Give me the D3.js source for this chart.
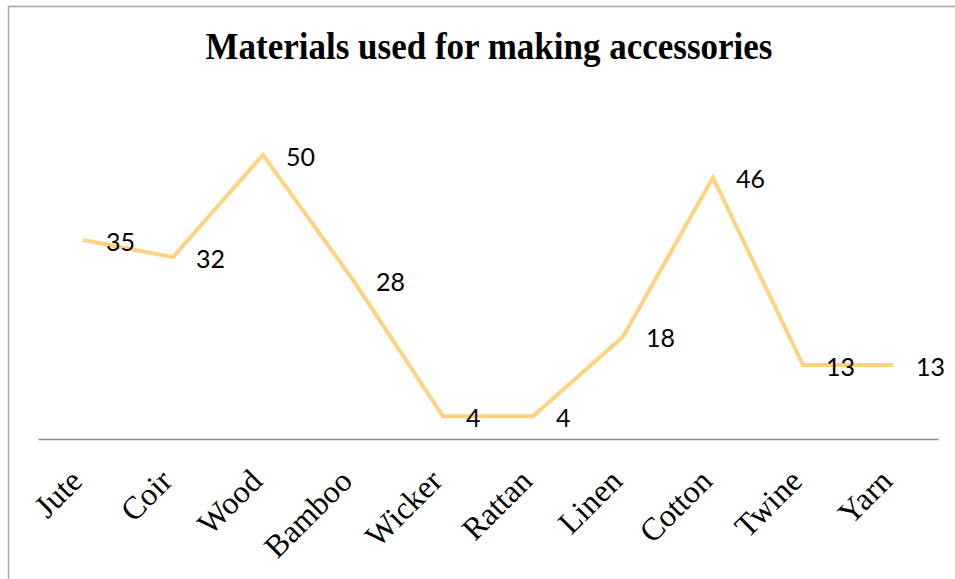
<!DOCTYPE html>
<html>
<head>
<meta charset="utf-8">
<script src="https://cdn.jsdelivr.net/npm/d3@7"></script>
<style>
  html, body { margin: 0; padding: 0; background: #fff; overflow: hidden; }
  svg { display: block; }
</style>
</head>
<body>
<svg id="chart" width="955" height="579"></svg>
<script>
// Materials and how often each is used
const categories = ["Jute", "Coir", "Wood", "Bamboo", "Wicker", "Rattan", "Linen", "Cotton", "Twine", "Yarn"];
const values = [35, 32, 50, 28, 4, 4, 18, 46, 13, 13];
const chartTitle = "Materials used for making accessories";

const width = 955, height = 579;
const plot = { left: 38, right: 938, top: 98, bottom: 439 };

const svg = d3.select("#chart");

// chart area frame (left and top edges visible)
svg.append("rect")
  .attr("x", 8.5).attr("y", 6.5)
  .attr("width", 1000).attr("height", 1000)
  .attr("fill", "none")
  .attr("stroke", "#a6a6a6")
  .attr("stroke-width", 1.5);

// title, slightly stretched vertically about its baseline
svg.append("text")
  .attr("x", 489).attr("y", 0)
  .attr("transform", "translate(0,59) scale(1,1.1)")
  .attr("text-anchor", "middle")
  .attr("font-family", "'Liberation Serif', 'Times New Roman', serif")
  .attr("font-weight", "bold")
  .attr("font-size", 35)
  .attr("fill", "#000")
  .text(chartTitle);

const x = d3.scaleBand()
  .domain(categories)
  .range([plot.left, plot.right]);

const y = d3.scaleLinear()
  .domain([0, 60])
  .range([plot.bottom, plot.top]);

// category axis
const xAxis = svg.append("g")
  .attr("transform", `translate(0,${plot.bottom})`)
  .call(d3.axisBottom(x).tickSize(0).tickPadding(0));
xAxis.select(".domain").attr("stroke", "#8c8c8c").attr("stroke-width", 1.5);
xAxis.selectAll(".tick text")
  .attr("font-family", "'Liberation Serif', 'Times New Roman', serif")
  .attr("font-size", 32)
  .attr("fill", "#000")
  .attr("text-anchor", "end")
  .attr("dy", 0)
  .attr("y", 0)
  .attr("transform", "translate(1,44) rotate(-45)");

// series line
const line = d3.line()
  .x((d, i) => x(categories[i]) + x.bandwidth() / 2)
  .y(d => y(d));

svg.append("path")
  .datum(values)
  .attr("fill", "none")
  .attr("stroke", "#ffd27f")
  .attr("stroke-width", 4)
  .attr("stroke-linejoin", "miter")
  .attr("d", line);

// value labels
svg.append("g")
  .selectAll("text")
  .data(values)
  .join("text")
  .attr("x", (d, i) => x(categories[i]) + x.bandwidth() / 2 + 23)
  .attr("y", d => y(d) + 2)
  .attr("dy", "0.35em")
  .attr("font-family", "Lato, 'Open Sans', sans-serif")
  .attr("font-size", 25)
  .attr("fill", "#000")
  .text(d => d);
</script>
</body>
</html>
